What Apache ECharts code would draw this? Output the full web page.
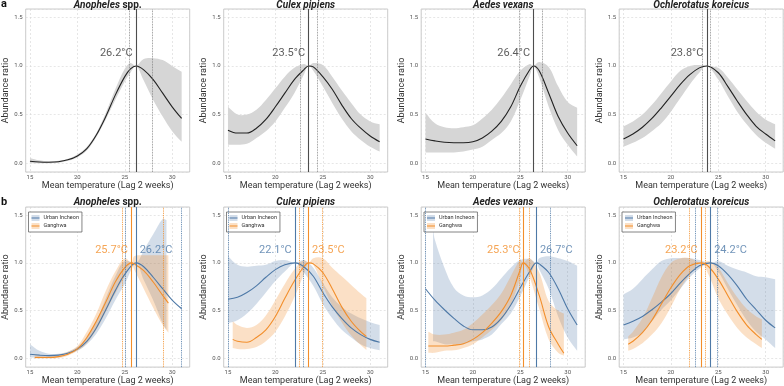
<!DOCTYPE html>
<html><head><meta charset="utf-8">
<script src="https://cdn.jsdelivr.net/npm/echarts@6/dist/echarts.min.js"></script>
<style>html,body{margin:0;padding:0;background:#fff}#c{width:784px;height:386px}</style>
</head><body><div id="c"></div>
<script>
// ---------- DATA ----------
const speciesItalic = ['Anopheles', 'Culex pipiens', 'Aedes vexans', 'Ochlerotatus koreicus'];
const speciesSuffix = [' spp.', '', '', ''];
const xAxisTitle = 'Mean temperature (Lag 2 weeks)';
const yAxisTitle = 'Abundance ratio';
const seriesNames = ['Urban Incheon', 'Ganghwa'];

// Row a (overall)
const a1Temp = [15,16,17,18,19,20,21,22,23,24,25,25.6,26.2,27,28,29,30,31];
const a1Fit  = [0.02,0.012,0.01,0.015,0.035,0.075,0.15,0.29,0.48,0.70,0.89,0.97,1.0,0.96,0.86,0.72,0.58,0.46];
const a1Low  = [0.0,0.0,0.0,0.005,0.025,0.06,0.13,0.27,0.45,0.65,0.84,0.93,1.0,0.85,0.65,0.48,0.33,0.22];
const a1High = [0.055,0.03,0.02,0.025,0.045,0.09,0.17,0.31,0.52,0.76,0.97,1.03,1.0,1.07,1.08,1.06,1.0,0.94];

const a2Temp = [15,16,17,18,19,20,21,22,23,23.5,24,25,26,27,28,29,30,31];
const a2Fit  = [0.34,0.31,0.31,0.36,0.45,0.58,0.72,0.86,0.96,1.0,0.99,0.89,0.76,0.60,0.46,0.36,0.28,0.22];
const a2Low  = [0.19,0.19,0.20,0.26,0.33,0.43,0.57,0.72,0.91,1.0,0.95,0.79,0.62,0.46,0.33,0.24,0.17,0.12];
const a2High = [0.58,0.50,0.50,0.55,0.65,0.77,0.89,0.98,1.02,1.0,1.03,1.01,0.89,0.75,0.62,0.50,0.43,0.40];

const a3Temp = [15,16,17,18,19,20,21,22,23,24,25,26,26.4,27,28,29,30,31];
const a3Fit  = [0.25,0.23,0.215,0.21,0.21,0.22,0.26,0.33,0.43,0.58,0.79,0.96,1.0,0.95,0.72,0.48,0.31,0.18];
const a3Low  = [0.11,0.11,0.11,0.11,0.12,0.14,0.17,0.24,0.31,0.43,0.65,0.90,1.0,0.88,0.58,0.34,0.19,0.07];
const a3High = [0.52,0.41,0.37,0.36,0.37,0.39,0.46,0.55,0.67,0.81,0.95,1.02,1.0,1.04,0.99,0.79,0.63,0.57];

const a4Temp = [15,16,17,18,19,20,21,22,23,23.8,25,26,27,28,29,30,31];
const a4Fit  = [0.25,0.30,0.37,0.46,0.57,0.69,0.81,0.91,0.98,1.0,0.93,0.79,0.64,0.50,0.38,0.30,0.23];
const a4Low  = [0.17,0.21,0.26,0.33,0.41,0.53,0.67,0.81,0.93,1.0,0.86,0.69,0.53,0.40,0.29,0.21,0.15];
const a4High = [0.38,0.43,0.50,0.60,0.72,0.84,0.95,1.0,1.01,1.0,0.98,0.88,0.76,0.64,0.53,0.45,0.40];

// optimum temperatures (solid) and their intervals (dotted)
const aOptimum = [26.2, 23.5, 26.4, 23.8];
const aInterval = [[25.5,27.9],[22.65,24.4],[24.9,27.3],[23.3,24.2]];

// Row b : Urban Incheon (blue)
const b1UrbTemp = [15,16,17,18,19,20,21,22,23,24,25,26.2,27,28,29,30,31];
const b1UrbFit  = [0.045,0.035,0.03,0.035,0.055,0.10,0.18,0.32,0.51,0.71,0.88,1.0,0.96,0.85,0.73,0.61,0.52];
const b1UrbCiTemp = [15,16,17,18,19,20,21,22,23,24,25,26.2,27,28,29,29.4];
const b1UrbLow  = [0.01,0.01,0.01,0.015,0.045,0.08,0.15,0.26,0.42,0.61,0.78,1.0,0.82,0.61,0.37,0.30];
const b1UrbHigh = [0.15,0.08,0.05,0.05,0.07,0.12,0.22,0.39,0.63,0.86,1.02,1.0,1.13,1.30,1.46,1.45];

const b2UrbTemp = [15,16,17,18,19,20,21,22.1,23,24,25,26,27,28,29,30,31];
const b2UrbFit  = [0.62,0.64,0.69,0.76,0.85,0.93,0.98,1.0,0.96,0.86,0.69,0.54,0.42,0.32,0.25,0.20,0.17];
const b2UrbLow  = [0.37,0.40,0.47,0.57,0.69,0.81,0.91,1.0,0.90,0.76,0.57,0.42,0.30,0.22,0.15,0.11,0.085];
const b2UrbHigh = [1.07,0.98,0.96,0.97,0.98,1.02,1.03,1.0,1.03,0.95,0.79,0.64,0.54,0.47,0.42,0.38,0.35];

const b3UrbTemp = [15,16,17,18,19,20,21,22,23,24,25,26,26.7,27,28,29,30,31];
const b3UrbFit  = [0.73,0.61,0.51,0.42,0.34,0.30,0.30,0.33,0.42,0.56,0.74,0.91,1.0,0.99,0.90,0.73,0.52,0.35];
const b3UrbCiTemp = [15.8,16,17,18,19,20,21,22,23,24,25,26,26.7,27,28,29,30,31];
const b3UrbLow  = [0.18,0.18,0.15,0.15,0.15,0.18,0.20,0.25,0.36,0.47,0.65,0.86,1.0,0.93,0.73,0.44,0.22,0.08];
const b3UrbHigh = [1.35,1.24,0.95,0.74,0.66,0.64,0.66,0.73,0.84,0.95,1.03,1.04,1.0,1.05,1.07,1.05,1.02,0.97];

const b4UrbTemp = [15,16,17,18,19,20,21,22,23,24.2,25,26,27,28,29,30,31];
const b4UrbFit  = [0.35,0.39,0.44,0.51,0.59,0.68,0.79,0.89,0.97,1.0,0.97,0.88,0.76,0.62,0.51,0.40,0.32];
const b4UrbLow  = [0.20,0.22,0.27,0.39,0.51,0.61,0.73,0.85,0.94,1.0,0.91,0.73,0.56,0.40,0.28,0.20,0.11];
const b4UrbHigh = [0.67,0.73,0.83,0.93,1.02,1.05,1.05,1.05,1.03,1.0,1.02,0.97,0.93,0.90,0.86,0.85,0.83];

// Row b : Ganghwa (orange)
const b1GanTemp = [15.5,16,17,18,19,20,21,22,23,24,25,25.7,26,27,28,29,29.6];
const b1GanFit  = [0.01,0.01,0.01,0.02,0.045,0.10,0.22,0.39,0.59,0.80,0.95,1.0,0.99,0.92,0.80,0.66,0.58];
const b1GanLow  = [0.0,0.0,0.0,0.005,0.03,0.08,0.16,0.30,0.49,0.68,0.86,1.0,0.93,0.73,0.53,0.35,0.27];
const b1GanHigh = [0.045,0.03,0.03,0.04,0.07,0.13,0.28,0.47,0.71,0.91,1.05,1.0,1.07,1.08,1.08,1.08,1.08];

const b2GanTemp = [15.5,16,17,18,19,20,21,22,23,23.5,24,25,26,27,28,29,29.6];
const b2GanFit  = [0.20,0.18,0.17,0.22,0.30,0.44,0.63,0.81,0.96,1.0,0.99,0.90,0.73,0.54,0.39,0.28,0.23];
const b2GanLow  = [0.11,0.10,0.10,0.12,0.18,0.28,0.44,0.64,0.88,1.0,0.98,0.76,0.55,0.38,0.24,0.14,0.09];
const b2GanHigh = [0.39,0.35,0.32,0.35,0.45,0.61,0.78,0.93,1.03,1.0,1.05,1.05,0.95,0.86,0.77,0.68,0.63];

const b3GanTemp = [15.3,16,17,18,19,20,21,22,23,24,25,25.3,26,27,28,29,29.6];
const b3GanFit  = [0.13,0.13,0.13,0.14,0.155,0.20,0.27,0.37,0.49,0.66,0.93,1.0,0.93,0.66,0.33,0.15,0.055];
const b3GanLow  = [0.06,0.06,0.08,0.085,0.11,0.15,0.22,0.30,0.40,0.56,0.85,1.0,0.85,0.52,0.20,0.06,0.03];
const b3GanHigh = [0.28,0.25,0.25,0.27,0.30,0.37,0.46,0.56,0.68,0.86,1.03,1.0,1.05,0.90,0.60,0.50,0.47];

const b4GanTemp = [15.5,16,17,18,19,20,21,22,23.2,24,25,26,27,28,29,29.6];
const b4GanFit  = [0.15,0.18,0.27,0.40,0.57,0.74,0.88,0.97,1.0,0.96,0.83,0.66,0.49,0.35,0.25,0.20];
const b4GanLow  = [0.08,0.10,0.16,0.25,0.37,0.54,0.73,0.88,1.0,0.87,0.63,0.46,0.32,0.22,0.15,0.11];
const b4GanHigh = [0.23,0.28,0.42,0.63,0.85,1.0,1.05,1.05,1.0,1.02,0.95,0.79,0.64,0.52,0.44,0.41];

const bUrbOptimum = [26.2, 22.1, 26.7, 24.2];
const bUrbInterval = [[25.05,31.0],[15.0,22.9],[15.0,28.2],[22.6,24.9]];
const bGanOptimum = [25.7, 23.5, 25.3, 23.2];
const bGanInterval = [[24.7,29.05],[22.5,24.9],[24.85,25.9],[21.9,23.6]];

// ---------- LAYOUT / STYLE ----------
const FONT = 'Roboto';
const GRID_LEFT = [25.7, 223.7, 421.2, 619.2];
const GRID_W = 164, GRID_H = 163;
const ROW_TOP = [9, 207];
const X_MIN = 14.55, X_MAX = 31.85, Y_MIN = -0.09, Y_MAX = 1.585;
const LABEL_Y = 1.135;
const SMOOTH = 0.35;
const BLUE = '#4e79a7', ORANGE = '#f28e2b';
const BLUE_FILL = 'rgba(78,121,167,0.25)', ORANGE_FILL = 'rgba(242,142,43,0.27)';
const GRAY_FILL = '#d6d6d6', BLACK_LINE = '#222';

const zip = (xs, ys) => xs.map((x, i) => [x, ys[i]]);

function smoothSeg(pts, s, start) {
  const n = pts.length;
  const cps = pts.map((p, i) => {
    const pr = pts[i - 1] || p, nx = pts[i + 1] || p;
    const vx = nx[0] - pr[0], vy = nx[1] - pr[1];
    const l1 = Math.hypot(p[0] - pr[0], p[1] - pr[1]);
    const l2 = Math.hypot(nx[0] - p[0], nx[1] - p[1]);
    const sum = (l1 + l2) || 1;
    return [[p[0] - vx * s * l1 / sum, p[1] - vy * s * l1 / sum],
            [p[0] + vx * s * l2 / sum, p[1] + vy * s * l2 / sum]];
  });
  let d = (start ? 'M' : 'L') + pts[0][0] + ',' + pts[0][1];
  for (let i = 0; i < n - 1; i++) {
    const a = cps[i][1], b = cps[i + 1][0], p = pts[i + 1];
    d += 'C' + a[0] + ',' + a[1] + ',' + b[0] + ',' + b[1] + ',' + p[0] + ',' + p[1];
  }
  return d;
}

function bandSeries(gi, name, xs, lo, hi, fill) {
  return {
    type: 'custom', name: name, xAxisIndex: gi, yAxisIndex: gi, coordinateSystem: 'cartesian2d',
    data: [[xs[0], lo[0]]], z: 2, silent: true, clip: true,
    itemStyle: { color: fill },
    renderItem: function (params, api) {
      const up = xs.map((x, i) => api.coord([x, hi[i]]));
      const dn = xs.map((x, i) => api.coord([x, lo[i]])).reverse();
      const d = smoothSeg(up, SMOOTH, true) + smoothSeg(dn, SMOOTH, false) + 'Z';
      return { type: 'path', shape: { pathData: d }, style: { fill: fill, stroke: null } };
    }
  };
}

function fitSeries(gi, name, xs, ys, color, optimum, interval, solidColor, dotColor, dotWidth) {
  return {
    type: 'line', name: name, xAxisIndex: gi, yAxisIndex: gi, data: zip(xs, ys),
    smooth: SMOOTH, symbol: 'none', z: 4, silent: true,
    lineStyle: { color: color, width: 1.1 }, itemStyle: { color: color },
    markLine: {
      silent: true, symbol: ['none', 'none'], label: { show: false }, animation: false,
      data: [
        { xAxis: optimum, lineStyle: { type: 'solid', color: solidColor, width: 1.1 } },
        { xAxis: interval[0], lineStyle: { type: 'dotted', color: dotColor, width: dotWidth } },
        { xAxis: interval[1], lineStyle: { type: 'dotted', color: dotColor, width: dotWidth } }
      ]
    }
  };
}

function labelSeries(gi, optimum, color, side) {
  return {
    type: 'scatter', xAxisIndex: gi, yAxisIndex: gi, data: [[optimum, LABEL_Y]],
    symbolSize: 1, itemStyle: { color: 'transparent' }, silent: true, z: 6,
    label: { show: true, position: side, distance: 3, fontSize: 11, fontFamily: FONT, color: color,
      formatter: () => optimum.toFixed(1) + '°C' }
  };
}

const grids = [], xAxes = [], yAxes = [], series = [], titles = [], legends = [];
for (let r = 0; r < 2; r++) {
  for (let c = 0; c < 4; c++) {
    const gi = r * 4 + c;
    grids.push({ left: GRID_LEFT[c], top: ROW_TOP[r], width: GRID_W, height: GRID_H, show: true,
      borderColor: '#bdbdbd', borderWidth: 0.8, backgroundColor: '#fff', containLabel: false });
    xAxes.push({ type: 'value', gridIndex: gi, min: X_MIN, max: X_MAX, splitNumber: 3,
      axisLine: { show: false }, axisTick: { show: false },
      axisLabel: { fontSize: 6, color: '#555', margin: 2, fontFamily: FONT, showMinLabel: false, showMaxLabel: false },
      splitLine: { show: true, lineStyle: { color: '#d6d6d6', width: 0.6, type: [2, 2] } },
      name: xAxisTitle, nameLocation: 'middle', nameGap: 7,
      nameTextStyle: { fontSize: 9, color: '#333', fontFamily: FONT } });
    yAxes.push({ type: 'value', gridIndex: gi, min: Y_MIN, max: Y_MAX, splitNumber: 3,
      axisLine: { show: false }, axisTick: { show: false },
      axisLabel: { fontSize: 6, color: '#555', margin: 3, fontFamily: FONT, showMinLabel: false, showMaxLabel: false,
        formatter: v => v.toFixed(1) },
      splitLine: { show: true, lineStyle: { color: '#d6d6d6', width: 0.6, type: [2, 2] } },
      name: yAxisTitle, nameLocation: 'middle', nameGap: 11,
      nameTextStyle: { fontSize: 9, color: '#333', fontFamily: FONT } });
    titles.push({ text: '{i|' + speciesItalic[c] + '}' + (speciesSuffix[c] ? '{n|' + speciesSuffix[c] + '}' : ''),
      left: GRID_LEFT[c] + GRID_W / 2, top: r === 0 ? 0 : 197.5, textAlign: 'center', padding: 0,
      textStyle: { lineHeight: 10, rich: {
        i: { fontStyle: 'italic', fontWeight: 'bold', fontSize: 10, lineHeight: 10, color: '#222', fontFamily: FONT },
        n: { fontWeight: 'bold', fontSize: 10, lineHeight: 10, color: '#222', fontFamily: FONT } } } });
  }
}
titles.push({ text: 'a', left: 1, top: -0.5, padding: 0, textStyle: { fontSize: 11, lineHeight: 10, fontWeight: 'bold', color: '#111', fontFamily: FONT } });
titles.push({ text: 'b', left: 1, top: 197.5, padding: 0, textStyle: { fontSize: 11, lineHeight: 10, fontWeight: 'bold', color: '#111', fontFamily: FONT } });

// Row a
const aTemps = [a1Temp, a2Temp, a3Temp, a4Temp];
const aFits = [a1Fit, a2Fit, a3Fit, a4Fit];
const aLows = [a1Low, a2Low, a3Low, a4Low];
const aHighs = [a1High, a2High, a3High, a4High];
for (let c = 0; c < 4; c++) {
  series.push(bandSeries(c, 'CI ' + c, aTemps[c], aLows[c], aHighs[c], GRAY_FILL));
  series.push(fitSeries(c, 'Overall ' + c, aTemps[c], aFits[c], BLACK_LINE, aOptimum[c], aInterval[c], '#4d4d4d', '#7a7a7a', 0.8));
  series.push(labelSeries(c, aOptimum[c], '#333', 'left'));
}

// Row b
const bUrb = [
  [b1UrbTemp, b1UrbFit, b1UrbCiTemp, b1UrbLow, b1UrbHigh],
  [b2UrbTemp, b2UrbFit, b2UrbTemp, b2UrbLow, b2UrbHigh],
  [b3UrbTemp, b3UrbFit, b3UrbCiTemp, b3UrbLow, b3UrbHigh],
  [b4UrbTemp, b4UrbFit, b4UrbTemp, b4UrbLow, b4UrbHigh]
];
const bGan = [
  [b1GanTemp, b1GanFit, b1GanLow, b1GanHigh],
  [b2GanTemp, b2GanFit, b2GanLow, b2GanHigh],
  [b3GanTemp, b3GanFit, b3GanLow, b3GanHigh],
  [b4GanTemp, b4GanFit, b4GanLow, b4GanHigh]
];
for (let c = 0; c < 4; c++) {
  const gi = 4 + c;
  const u = bUrb[c], g = bGan[c];
  series.push(bandSeries(gi, seriesNames[0] + ' CI', u[2], u[3], u[4], BLUE_FILL));
  series.push(bandSeries(gi, seriesNames[1] + ' CI', g[0], g[2], g[3], ORANGE_FILL));
  series.push(fitSeries(gi, seriesNames[0], u[0], u[1], BLUE, bUrbOptimum[c], bUrbInterval[c], BLUE, BLUE, 0.9));
  series.push(fitSeries(gi, seriesNames[1], g[0], g[1], ORANGE, bGanOptimum[c], bGanInterval[c], ORANGE, ORANGE, 0.9));
  const urbRight = bUrbOptimum[c] > bGanOptimum[c];
  series.push(labelSeries(gi, bUrbOptimum[c], BLUE, urbRight ? 'right' : 'left'));
  series.push(labelSeries(gi, bGanOptimum[c], ORANGE, urbRight ? 'left' : 'right'));

  const common = { orient: 'vertical', left: GRID_LEFT[c] + 2.8, top: 212, itemWidth: 8, itemHeight: 6,
    itemGap: 2, padding: [3, 3, 3, 3], selectedMode: false };
  legends.push(Object.assign({}, common, {
    z: 4, data: [seriesNames[0] + ' CI', seriesNames[1] + ' CI'], icon: 'rect',
    backgroundColor: '#fff', borderColor: '#666', borderWidth: 0.8,
    formatter: n => n.replace(' CI', ''),
    textStyle: { fontSize: 5.5, color: 'rgba(0,0,0,0)', fontFamily: FONT, padding: [0, 0, 0, -1] }
  }));
  legends.push(Object.assign({}, common, {
    z: 5, data: seriesNames.slice(),
    icon: 'path://M0,0h0.01v0.01h-0.01zM8,5.99h0.01v0.01h-0.01zM0,2.4h8v1.2h-8z',
    textStyle: { fontSize: 5.5, color: '#333', fontFamily: FONT, padding: [0, 0, 0, -1] }
  }));
}

const chart = echarts.init(document.getElementById('c'), null, { renderer: 'canvas' });
chart.setOption({
  animation: false,
  backgroundColor: '#fff',
  textStyle: { fontFamily: FONT },
  title: titles, grid: grids, xAxis: xAxes, yAxis: yAxes, legend: legends, series: series
});
</script></body></html>
